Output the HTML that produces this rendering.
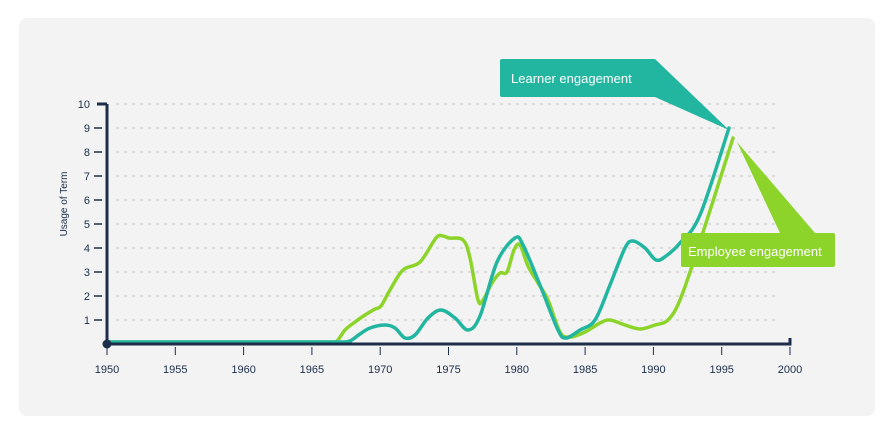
<!DOCTYPE html>
<html><head><meta charset="utf-8"><style>
body{margin:0;background:#fff;width:893px;height:434px;overflow:hidden;font-family:"Liberation Sans",sans-serif}
</style></head><body>
<svg width="893" height="434" xmlns="http://www.w3.org/2000/svg">
<rect x="19" y="18" width="856" height="398" rx="8" fill="#f3f3f3"/>
<g stroke="#c4c4c4" stroke-width="1" stroke-dasharray="3,5">
<line x1="116" x2="775" y1="104" y2="104"/><line x1="116" x2="775" y1="128" y2="128"/>
<line x1="116" x2="775" y1="152" y2="152"/><line x1="116" x2="775" y1="176" y2="176"/>
<line x1="116" x2="775" y1="200" y2="200"/><line x1="116" x2="775" y1="224" y2="224"/>
<line x1="116" x2="775" y1="248" y2="248"/><line x1="116" x2="775" y1="272" y2="272"/>
<line x1="116" x2="775" y1="296" y2="296"/><line x1="116" x2="775" y1="320" y2="320"/>
</g>
<g font-size="11" fill="#1c2e4a" text-anchor="end">
<text x="90" y="108">10</text><text x="90" y="132">9</text><text x="90" y="156">8</text><text x="90" y="180">7</text><text x="90" y="204">6</text><text x="90" y="228">5</text><text x="90" y="252">4</text><text x="90" y="276">3</text><text x="90" y="300">2</text><text x="90" y="324">1</text>
</g>
<g stroke="#1c2e4a" stroke-width="1.5">
<line x1="94" x2="102" y1="128" y2="128"/><line x1="94" x2="102" y1="152" y2="152"/><line x1="94" x2="102" y1="176" y2="176"/><line x1="94" x2="102" y1="200" y2="200"/><line x1="94" x2="102" y1="224" y2="224"/><line x1="94" x2="102" y1="248" y2="248"/><line x1="94" x2="102" y1="272" y2="272"/><line x1="94" x2="102" y1="296" y2="296"/><line x1="94" x2="102" y1="320" y2="320"/>
</g>
<text transform="translate(67,204) rotate(-90)" font-size="10" fill="#1c2e4a" text-anchor="middle">Usage of Term</text>
<g stroke="#1c2e4a" stroke-width="1" id="xt"></g>
<g font-size="11" fill="#1c2e4a" text-anchor="middle" id="xl"></g>
<path id="g" fill="none" stroke="#8cd42a" stroke-width="3.5" stroke-linecap="round"/>
<path id="t" fill="none" stroke="#22b5a0" stroke-width="3.5" stroke-linecap="round"/>
<path d="M107 104 V344 H790 V338" fill="none" stroke="#1c2e4a" stroke-width="3"/>
<line x1="97" x2="107" y1="104" y2="104" stroke="#1c2e4a" stroke-width="3"/>
<circle cx="107" cy="344" r="4.5" fill="#1c2e4a"/>
<path d="M502 59 H655 L729 130 L655 97 H502 Q500 97 500 95 V61 Q500 59 502 59Z" fill="#22b5a0"/>
<text x="511" y="83" font-size="13" fill="#fff">Learner engagement</text>
<path d="M683 233 H780 L737 142 L815 233 H833 Q835 233 835 235 V265 Q835 267 833 267 H683 Q681 267 681 265 V235 Q681 233 683 233Z" fill="#8cd42a"/>
<text x="688" y="256" font-size="13" fill="#fff">Employee engagement</text>
</svg>
<script>
function cr(p){let d="M"+p[0][0]+" "+p[0][1];for(let i=0;i<p.length-1;i++){const a=p[Math.max(0,i-1)],b=p[i],c=p[i+1],e=p[Math.min(p.length-1,i+2)];d+=` C${b[0]+(c[0]-a[0])/6} ${b[1]+(c[1]-a[1])/6} ${c[0]-(e[0]-b[0])/6} ${c[1]-(e[1]-b[1])/6} ${c[0]} ${c[1]}`;}return d;}
const G=[[107,342],[320,342],[330,342],[337,341],[345,330],[355,322],[365,315],[375,309],[381,306],[390,290],[403,270],[420,262],[436,238],[443,236],[449,238],[463,240],[470,258],[478,300],[483,300],[492,283],[500,273],[507,272],[514,250],[520,245],[528,266],[538,283],[548,300],[560,332],[570,337],[585,332],[600,323],[610,320],[625,325],[640,329],[655,325],[668,320],[680,300],[698,248],[733,138]];
const T=[[107,342],[330,342],[342,342],[350,341],[360,334],[370,328],[385,325],[395,328],[405,338],[415,335],[428,318],[441,310],[455,318],[468,330],[480,316],[497,262],[515,238],[523,245],[540,285],[558,330],[566,338],[580,330],[595,320],[610,285],[625,248],[633,241],[645,248],[656,260],[666,256],[680,243],[700,215],[729,128]];
document.getElementById("g").setAttribute("d",cr(G));
document.getElementById("t").setAttribute("d",cr(T));
const ns="http://www.w3.org/2000/svg";let xt=document.getElementById("xt"),xl=document.getElementById("xl");
for(let y=1950;y<=2000;y+=5){const x=107+(y-1950)*13.66;let l=document.createElementNS(ns,"line");l.setAttribute("x1",x);l.setAttribute("x2",x);l.setAttribute("y1",347);l.setAttribute("y2",355);xt.appendChild(l);let t=document.createElementNS(ns,"text");t.setAttribute("x",x);t.setAttribute("y",373);t.textContent=y;xl.appendChild(t);}
</script>
</body></html>
